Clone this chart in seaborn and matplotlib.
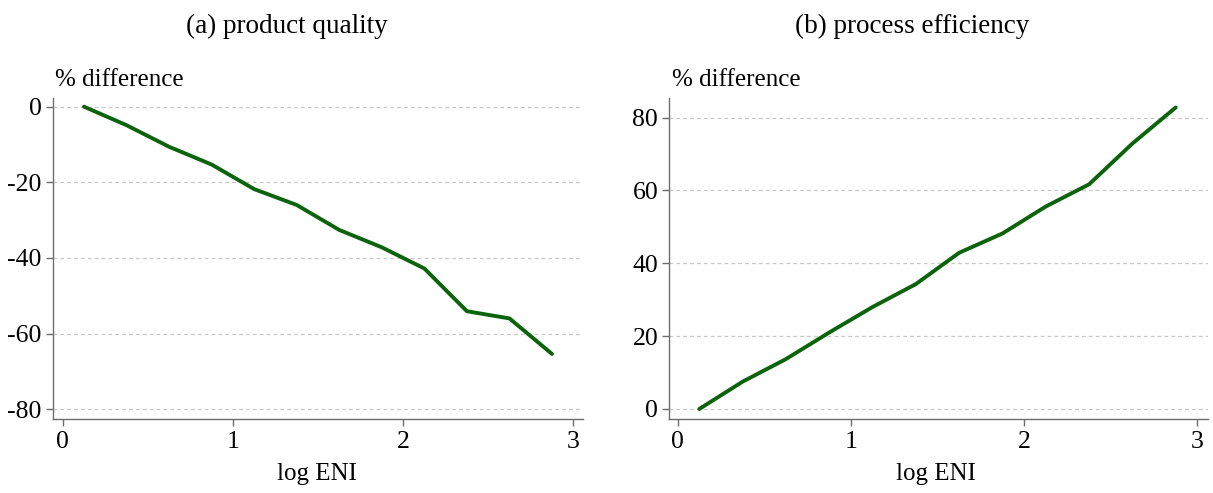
import numpy as np
import pandas as pd
import matplotlib
matplotlib.use("Agg")
import matplotlib.pyplot as plt
import seaborn as sns

# Data
log_eni = [0.125, 0.375, 0.625, 0.875, 1.125, 1.375, 1.625, 1.875, 2.125, 2.375, 2.625, 2.875]
quality_diff = [0.0, -4.9, -10.6, -15.3, -21.8, -26.0, -32.6, -37.2, -42.8, -54.1, -56.0, -65.4]
efficiency_diff = [0.0, 7.5, 13.7, 21.0, 28.0, 34.3, 42.9, 48.2, 55.6, 61.7, 72.9, 82.8]
x_ticks = [0, 1, 2, 3]
quality_yticks = [0, -20, -40, -60, -80]
efficiency_yticks = [0, 20, 40, 60, 80]
titles = ["(a) product quality", "(b) process efficiency"]
ylab = "% difference"
xlab = "log ENI"

sns.set_theme(style="white")
plt.rcParams['font.family'] = ['Liberation Serif', 'DejaVu Serif']
plt.rcParams['text.color'] = 'black'

fig = plt.figure(figsize=(12.13, 4.93), dpi=100)
W, H = 1213, 493

def px_axes(x0, x1, y0, y1):
    return fig.add_axes([x0 / W, 1 - y1 / H, (x1 - x0) / W, (y1 - y0) / H])

ax1 = px_axes(52.7, 583, 98, 419)
ax2 = px_axes(669.3, 1208.3, 98, 419)

df1 = pd.DataFrame({"x": log_eni, "y": quality_diff})
df2 = pd.DataFrame({"x": log_eni, "y": efficiency_diff})

line_color = "#0b640b"
for ax, df, yt, ylim, xlim in [(ax1, df1, quality_yticks, (-82.6, 2.3), (-0.059, 3.057)),
                               (ax2, df2, efficiency_yticks, (-2.75, 85.4), (-0.048, 3.063))]:
    for v in yt:
        ax.axhline(v, color="#c8c8c8", lw=0.9, ls=(0, (3, 2.5)), zorder=0)
    sns.lineplot(data=df, x="x", y="y", ax=ax, color=line_color, lw=2.8, zorder=3)
    ax.set_xlim(*xlim)
    ax.set_ylim(*ylim)
    ax.set_xticks(x_ticks)
    ax.set_yticks(yt)
    ax.set_xticklabels([str(t) for t in x_ticks])
    ax.set_yticklabels([str(t) for t in yt])
    ax.set_xlabel("")
    ax.set_ylabel("")
    for s in ["top", "right"]:
        ax.spines[s].set_visible(False)
    for s in ["left", "bottom"]:
        ax.spines[s].set_color("#6e6e6e")
        ax.spines[s].set_linewidth(1.0)
    ax.tick_params(axis="both", which="both", direction="out", length=5, width=1.0,
                   color="#6e6e6e", labelsize=18.5, labelcolor="black", pad=3,
                   left=True, bottom=True)
    ax.tick_params(axis="x", pad=4)
    ax.grid(False)

fig.text(287 / W, 1 - 26 / H, titles[0], ha="center", va="center", fontsize=19.5, color="black")
fig.text(912 / W, 1 - 26 / H, titles[1], ha="center", va="center", fontsize=19.5, color="black")
fig.text(55 / W, 1 - 80 / H, ylab, ha="left", va="center", fontsize=18, color="black")
fig.text(672 / W, 1 - 80 / H, ylab, ha="left", va="center", fontsize=18, color="black")
fig.text(317 / W, 1 - 474 / H, xlab, ha="center", va="center", fontsize=18, color="black")
fig.text(936 / W, 1 - 474 / H, xlab, ha="center", va="center", fontsize=18, color="black")

fig.savefig("out.png", dpi=100, facecolor="white")
